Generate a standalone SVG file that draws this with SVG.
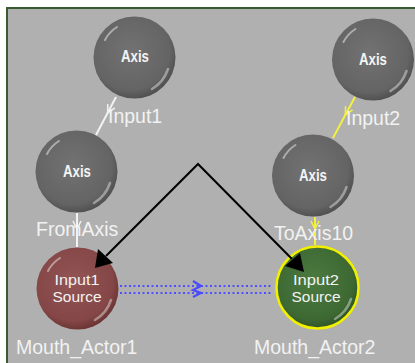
<svg xmlns="http://www.w3.org/2000/svg" width="415" height="363" viewBox="0 0 415 363">
<style>
.lbl{font-family:"Liberation Sans",Arial,sans-serif;font-size:19.5px;fill:#f2f2f2}
.ax{font-family:"Liberation Sans",Arial,sans-serif;font-size:17px;font-weight:bold;fill:#f4f4f4;text-anchor:middle}
.src{font-family:"Liberation Sans",Arial,sans-serif;font-size:15px;fill:#f4f4f4;text-anchor:middle}
.hl{fill:none;stroke:#fff;stroke-linecap:round}
</style>
<defs>
<radialGradient id="gGray" cx="0.45" cy="0.42" r="0.6">
<stop offset="0" stop-color="#727272"/><stop offset="0.8" stop-color="#646464"/><stop offset="1" stop-color="#4e4e4e"/>
</radialGradient>
<radialGradient id="gRed" cx="0.45" cy="0.42" r="0.6">
<stop offset="0" stop-color="#935454"/><stop offset="0.8" stop-color="#844646"/><stop offset="1" stop-color="#683232"/>
</radialGradient>
<radialGradient id="gGreen" cx="0.45" cy="0.42" r="0.6">
<stop offset="0" stop-color="#4b7a40"/><stop offset="0.8" stop-color="#3d6832"/><stop offset="1" stop-color="#2c5024"/>
</radialGradient>
<marker id="vW" viewBox="-10 -6 12 12" refX="0" refY="0" markerWidth="12" markerHeight="12" markerUnits="userSpaceOnUse" orient="auto">
<path d="M-8,-4 L0,0 L-8,4" fill="none" stroke="#f2f2f2" stroke-width="1.5"/>
</marker>
<marker id="vY" viewBox="-10 -6 12 12" refX="0" refY="0" markerWidth="12" markerHeight="12" markerUnits="userSpaceOnUse" orient="auto">
<path d="M-8,-4 L0,0 L-8,4" fill="none" stroke="#f4f040" stroke-width="1.5"/>
</marker>
</defs>
<rect x="0" y="0" width="415" height="363" fill="#fff"/>
<rect x="7" y="8" width="408" height="355" fill="#b0b0b0"/>
<path d="M7,363 L7,8 L415,8" fill="none" stroke="#3a5a30" stroke-width="2"/>

<g id="axis1">
<circle cx="134.5" cy="57.5" r="41" fill="url(#gGray)"/>
<path class="hl" d="M105,40 A33,33 0 0 1 117,27" stroke-width="2" opacity="0.45"/>
<path class="hl" d="M168,69 A36,36 0 0 1 152,89" stroke-width="2.5" opacity="0.4"/>
<text class="ax" x="135" y="62" textLength="28" lengthAdjust="spacingAndGlyphs">Axis</text>
</g>
<g id="axis2">
<circle cx="373" cy="59.5" r="41" fill="url(#gGray)"/>
<path class="hl" d="M343.5,42 A33,33 0 0 1 355.5,29" stroke-width="2" opacity="0.45"/>
<path class="hl" d="M406.5,71 A36,36 0 0 1 390.5,91" stroke-width="2.5" opacity="0.4"/>
<text class="ax" x="373" y="65" textLength="28" lengthAdjust="spacingAndGlyphs">Axis</text>
</g>
<g id="axis3">
<circle cx="76.5" cy="171.5" r="41" fill="url(#gGray)"/>
<path class="hl" d="M47,154 A33,33 0 0 1 59,141" stroke-width="2" opacity="0.45"/>
<path class="hl" d="M110,183 A36,36 0 0 1 94,203" stroke-width="2.5" opacity="0.4"/>
<text class="ax" x="77" y="177" textLength="28" lengthAdjust="spacingAndGlyphs">Axis</text>
</g>
<g id="axis4">
<circle cx="313" cy="175.5" r="41" fill="url(#gGray)"/>
<path class="hl" d="M283.5,158 A33,33 0 0 1 295.5,145" stroke-width="2" opacity="0.45"/>
<path class="hl" d="M346.5,187 A36,36 0 0 1 330.5,207" stroke-width="2.5" opacity="0.4"/>
<text class="ax" x="313" y="181" textLength="28" lengthAdjust="spacingAndGlyphs">Axis</text>
</g>
<g id="mouth1">
<circle cx="77.5" cy="288.5" r="41" fill="url(#gRed)"/>
<path class="hl" d="M48,271 A33,33 0 0 1 60,258" stroke-width="2" opacity="0.45"/>
<path class="hl" d="M111,300 A36,36 0 0 1 95,320" stroke-width="2.5" opacity="0.4"/>
<text class="src" x="77" y="285" textLength="45" lengthAdjust="spacingAndGlyphs">Input1</text>
<text class="src" x="77" y="302" textLength="49" lengthAdjust="spacingAndGlyphs">Source</text>
<text class="lbl" x="16" y="354">Mouth_Actor1</text>
</g>
<g id="mouth2">
<circle cx="317.5" cy="287.5" r="41" fill="url(#gGreen)" stroke="#f0f000" stroke-width="2.5"/>
<path class="hl" d="M351,299 A36,36 0 0 1 335,319" stroke-width="2.5" opacity="0.4"/>
<text class="src" x="316" y="285" textLength="46" lengthAdjust="spacingAndGlyphs">Input2</text>
<text class="src" x="316" y="302" textLength="49" lengthAdjust="spacingAndGlyphs">Source</text>
<text class="lbl" x="254" y="354">Mouth_Actor2</text>
</g>

<g id="connectors">
<path d="M116,97 L107.6,113 L96,135" fill="none" stroke="#f2f2f2" stroke-width="2" marker-mid="url(#vW)"/>
<path d="M355,97 L345.3,115 L333,138" fill="none" stroke="#f4f040" stroke-width="2" marker-mid="url(#vY)"/>
<path d="M77,213 L77,229 L77,247" fill="none" stroke="#f2f2f2" stroke-width="2" marker-mid="url(#vW)"/>
<path d="M315,217 L315,229 L315,245" fill="none" stroke="#f4f040" stroke-width="2" marker-mid="url(#vY)"/>
<polyline points="106,256 198,164 292,259" fill="none" stroke="#000" stroke-width="2"/>
<polygon points="95,268 98,249 113,263" fill="#000"/>
<polygon points="304,272 285,266 300,253" fill="#000"/>
<line x1="120" y1="286" x2="272" y2="286" stroke="#5050ff" stroke-width="2" stroke-dasharray="2 2.5"/>
<line x1="120" y1="293" x2="272" y2="293" stroke="#5050ff" stroke-width="2" stroke-dasharray="2 2.5"/>
<path d="M193,281 L201,286 L193,290 L201,293 L193,297" fill="none" stroke="#4a4aff" stroke-width="2.2"/>
<text class="lbl" x="108" y="123">Input1</text>
<text class="lbl" x="346" y="125">Input2</text>
<text class="lbl" x="36" y="236">FromAxis</text>
<text class="lbl" x="274" y="240">ToAxis10</text>
</g>
</svg>
